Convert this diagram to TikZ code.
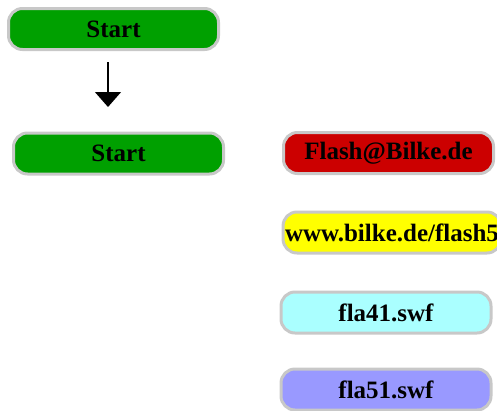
\documentclass[tikz,border=0pt]{standalone}
\usepackage{fontspec}
\setmainfont{Liberation Serif}
\usepackage{xcolor}
\usepackage{tikz}
\usetikzlibrary{arrows.meta, positioning}
\definecolor{border}{RGB}{200, 200, 200}
\definecolor{startgreen}{RGB}{0, 160, 0}
\definecolor{mailred}{RGB}{204, 0, 0}
\definecolor{urlyellow}{RGB}{255, 255, 0}
\definecolor{swfcyan}{RGB}{170, 255, 255}
\definecolor{swfblue}{RGB}{153, 153, 255}
\tikzstyle{pill} = [rectangle, rounded corners=14pt, minimum width=210pt, minimum height=41pt, text centered, draw=border, line width=3pt, text=black, font=\bfseries\fontsize{25}{29}\selectfont]
\tikzstyle{arrow} = [line width=1.3pt, -{Triangle[length=15pt, width=26pt]}, color=black]

\begin{document}
\begin{tikzpicture}[x=1pt, y=-1pt]
    \clip (0,0) rectangle (497,410);
    % Nodes
    \node (start) [pill, fill=startgreen] at (113.5,29) {Start};
    \node (starttwo) [pill, fill=startgreen] at (118.5,153.5) {Start};
    \node (mail) [pill, fill=mailred] at (388.5,153) {Flash@Bilke.de};
    \node (url) [pill, fill=urlyellow, inner xsep=2pt] at (392,232.5) {www.bilke.de/flash5};
    \node (flafour) [pill, fill=swfcyan] at (386,312.5) {fla41.swf};
    \node (flafive) [pill, fill=swfblue] at (386,389.5) {fla51.swf};

    % Arrows
    \coordinate (arrtop) at (108,62);
    \coordinate (arrtip) at (108,107);
    \draw [arrow] (arrtop) -- (arrtip);
\end{tikzpicture}
\end{document}
